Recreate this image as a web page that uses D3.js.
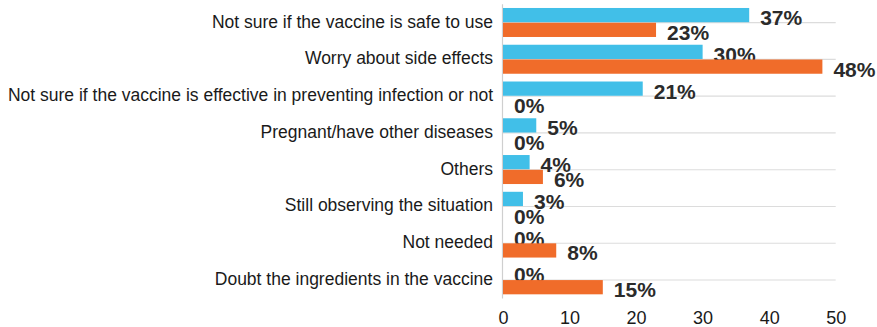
<!DOCTYPE html>
<html><head><meta charset="utf-8">
<script src="https://cdn.jsdelivr.net/npm/d3@7"></script>
<style>body{margin:0;background:#fff}</style>
</head><body>
<svg id="c" width="877" height="327"></svg>
<script>
const categories = [
  "Not sure if the vaccine is safe to use",
  "Worry about side effects",
  "Not sure if the vaccine is effective in preventing infection or not",
  "Pregnant/have other diseases",
  "Others",
  "Still observing the situation",
  "Not needed",
  "Doubt the ingredients in the vaccine"
];
const seriesA = [37, 30, 21, 5, 4, 3, 0, 0];
const seriesB = [23, 48, 0, 0, 6, 0, 8, 15];
const xTicks = [0, 10, 20, 30, 40, 50];
const colors = ["#41BFE8", "#F06C2A"];

const svg = d3.select("#c");
const x = d3.scaleLinear().domain([0, 50]).range([503, 835.7]);
const y = d3.scaleBand().domain(categories).range([4.3, 298.4]).padding(0);
const bw = y.bandwidth();
const sub = d3.scaleBand().domain([0, 1]).range([bw/2 - 14.7, bw/2 + 14.3]).paddingInner(0.035);

// gridlines
svg.append("g").selectAll("line").data(categories).join("line")
  .attr("x1", x(0)).attr("x2", x(50))
  .attr("y1", d => y(d) + bw/2).attr("y2", d => y(d) + bw/2)
  .attr("stroke", "#dcdcdc").attr("stroke-width", 1.2);

// vertical axis line
svg.append("line").attr("x1", x(0) - 0.5).attr("x2", x(0) - 0.5)
  .attr("y1", 4.3).attr("y2", 298.4).attr("stroke", "#cfcfcf").attr("stroke-width", 1.2);

const series = [seriesA, seriesB];
series.forEach((vals, si) => {
  const g = svg.append("g");
  g.selectAll("rect").data(categories).join("rect")
    .attr("x", x(0))
    .attr("y", (d) => y(d) + sub(si))
    .attr("width", (d, i) => x(vals[i]) - x(0))
    .attr("height", sub.bandwidth())
    .attr("fill", colors[si]);
  g.selectAll("text").data(categories).join("text")
    .attr("x", (d, i) => x(vals[i]) + 11)
    .attr("y", (d) => y(d) + sub(si) + sub.bandwidth()/2 + 2.5)
    .attr("dominant-baseline", "central")
    .attr("font-family", "Liberation Sans, Arial, sans-serif")
    .attr("font-weight", "bold")
    .attr("font-size", 21)
    .attr("fill", "#2b2b2b")
    .text((d, i) => vals[i] + "%");
});

// category labels
svg.append("g").selectAll("text").data(categories).join("text")
  .attr("x", 493)
  .attr("y", d => y(d) + bw/2 - 1)
  .attr("text-anchor", "end")
  .attr("dominant-baseline", "central")
  .attr("font-family", "Liberation Sans, Arial, sans-serif")
  .attr("font-size", 17.5)
  .attr("fill", "#1a1a1a")
  .text(d => d);

// x axis tick labels
const xAxis = d3.axisBottom(x).tickValues(xTicks).tickSize(0).tickPadding(13);
const ax = svg.append("g").attr("transform", "translate(0,298.4)").call(xAxis);
ax.select(".domain").remove();
ax.selectAll("text").attr("font-family", "Liberation Sans, Arial, sans-serif")
  .attr("font-size", 18).attr("fill", "#1a1a1a");
</script>
</body></html>
